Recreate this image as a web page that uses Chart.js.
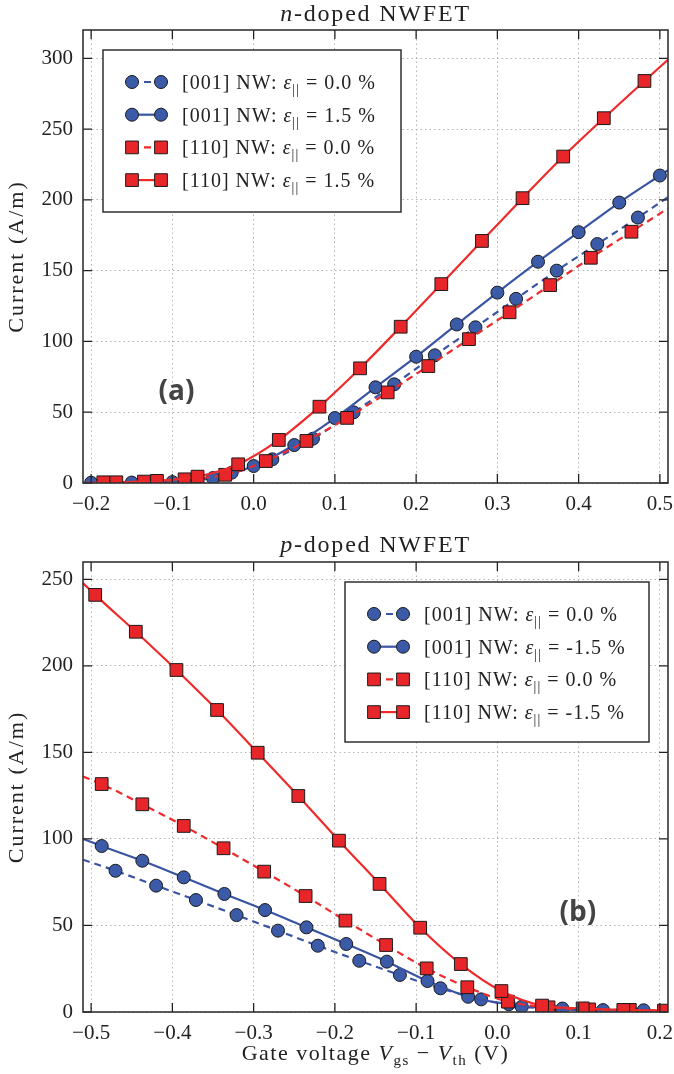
<!DOCTYPE html>
<html>
<head>
<meta charset="utf-8">
<script src="https://cdn.jsdelivr.net/npm/chart.js@4/dist/chart.umd.min.js"></script>
<style>
  html, body { margin: 0; padding: 0; background: #fff; }
  #wrap { position: relative; width: 674px; height: 1074px; }
  #nChart { position: absolute; left: 0; top: 0; }
  #pChart { position: absolute; left: 0; top: 525px; }
</style>
</head>
<body>
<div id="wrap">
  <canvas id="nChart" width="674" height="525"></canvas>
  <canvas id="pChart" width="674" height="549"></canvas>
</div>
<script>
// ---- n-doped NWFET: current (A/m) vs gate voltage (V) ----
const nX001a = [-0.027, 0.023, 0.073, 0.123, 0.173, 0.223, 0.273, 0.323, 0.373, 0.423, 0.473];
const nY001a = [7.3, 16.7, 31.3, 49.9, 69.7, 90.2, 110, 130.1, 150, 168.8, 187.5];
const nX001b = [-0.2, -0.15, -0.1, -0.05, 0, 0.05, 0.1, 0.15, 0.2, 0.25, 0.3, 0.35, 0.4, 0.45, 0.5];
const nY001b = [0.2, 0.3, 0.6, 3.5, 12, 26.8, 45.9, 67.6, 89.2, 112, 134.5, 156.3, 177.2, 198.1, 217.2];
const nX110a = [-0.185, -0.135, -0.085, -0.035, 0.015, 0.065, 0.115, 0.165, 0.215, 0.265, 0.315, 0.365, 0.415, 0.465];
const nY110a = [0.5, 1, 2.6, 5.8, 15.5, 29.7, 46, 64, 82.6, 101.6, 120.6, 139.8, 159.1, 177.5];
const nX110b = [-0.169, -0.119, -0.069, -0.019, 0.031, 0.081, 0.131, 0.181, 0.231, 0.281, 0.331, 0.381, 0.431, 0.481];
const nY110b = [0.5, 1.5, 4.5, 13.2, 30.4, 53.9, 81, 110.4, 140.5, 171, 201.2, 230.6, 257.7, 284];
// curve points without markers (ends of the drawn lines)
const nLineX001a = [-0.21, -0.1, 0.51], nLineY001a = [0, 0.5, 202];
const nLineX001b = [-0.21, 0.51], nLineY001b = [0, 221];
const nLineX110a = [-0.21, 0.51], nLineY110a = [0, 194];
const nLineX110b = [-0.21, 0.51], nLineY110b = [0, 299];
const nStrain = ['0.0', '1.5', '0.0', '1.5'];
const nTicksX = [-0.2, -0.1, 0, 0.1, 0.2, 0.3, 0.4, 0.5];
const nTicksY = [0, 50, 100, 150, 200, 250, 300];

// ---- p-doped NWFET ----
const pX001a = [-0.47, -0.42, -0.371, -0.321, -0.27, -0.221, -0.17, -0.12, -0.07, -0.02, 0.03, 0.08, 0.13, 0.18];
const pY001a = [81.6, 73, 64.7, 56, 47, 38.3, 29.6, 21.4, 13.7, 7.3, 3, 2, 1.1, 1];
const pX001b = [-0.487, -0.437, -0.386, -0.336, -0.286, -0.235, -0.186, -0.136, -0.086, -0.036, 0.014, 0.064, 0.114, 0.164];
const pY001b = [95.9, 87.4, 77.8, 68.2, 58.9, 48.9, 39.3, 29.1, 17.9, 8.8, 4.5, 2, 1, 0.5];
const pX110a = [-0.487, -0.437, -0.386, -0.337, -0.287, -0.236, -0.187, -0.137, -0.087, -0.037, 0.013, 0.063, 0.113, 0.163];
const pY110a = [131.7, 120, 107.5, 94.6, 81.1, 67, 52.8, 38.7, 25.2, 14.3, 6, 2.7, 1.5, 1.2];
const pX110b = [-0.495, -0.445, -0.395, -0.345, -0.295, -0.245, -0.195, -0.145, -0.095, -0.045, 0.005, 0.055, 0.105, 0.155, 0.205];
const pY110b = [241, 219.7, 197.6, 174.5, 149.8, 124.8, 99, 74, 48.7, 27.7, 12.1, 3.7, 2.1, 1.2, 0.8];
const pLineX001a = [-0.51, 0.21], pLineY001a = [88, 0.6];
const pLineX001b = [-0.51, 0.21], pLineY001b = [100, 0.3];
const pLineX110a = [-0.51, 0.21], pLineY110a = [136, 0.8];
const pLineX110b = [-0.51, 0.21], pLineY110b = [247.8, 0.8];
const pStrain = ['0.0', '-1.5', '0.0', '-1.5'];
const pTicksX = [-0.5, -0.4, -0.3, -0.2, -0.1, 0, 0.1, 0.2];
const pTicksY = [0, 50, 100, 150, 200, 250];

const SERIF = '"Liberation Serif", "Times New Roman", serif';
const BLUE = '#3a54a4', BLUE_FILL = '#3b5ba9';
const RED = '#ee2a2b', RED_FILL = '#e8262a';
const EDGE = '#1a1a1a';

Chart.defaults.font.family = SERIF;
Chart.defaults.color = '#222';

// style per series, in legend order: [001] unstrained, [001] strained, [110] unstrained, [110] strained
const STYLES = [
  { color: BLUE, fill: BLUE_FILL, dash: [7, 5], shape: 'circle', r: 6.5 },
  { color: BLUE, fill: BLUE_FILL, dash: [], shape: 'circle', r: 6.5 },
  { color: RED, fill: RED_FILL, dash: [7, 5], shape: 'rect', r: 9 },
  { color: RED, fill: RED_FILL, dash: [], shape: 'rect', r: 9 }
];

function makeSet(xs, ys, lx, ly, st, order) {
  const pts = xs.map((v, i) => ({ x: v, y: ys[i], mark: true }))
    .concat(lx.map((v, i) => ({ x: v, y: ly[i], mark: false })))
    .sort((a, b) => a.x - b.x);
  return {
    data: pts,
    order: order,
    borderColor: st.color,
    borderWidth: 2.2,
    borderDash: st.dash,
    cubicInterpolationMode: 'monotone',
    pointStyle: st.shape,
    pointRadius: c => (c.raw && c.raw.mark ? st.r : 0),
    pointHoverRadius: 0,
    pointBackgroundColor: st.fill,
    pointBorderColor: EDGE,
    pointBorderWidth: 1
  };
}

function fmtX(v) {
  return (v < -1e-9 ? '\u2212' : '') + Math.abs(v).toFixed(1);
}

// mixed-style text: parts are [text, style] with style '', 'i' (italic) or 'sub'
function richText(ctx, x, y, parts, size, align, spacing) {
  const fontOf = s => (s === 'i' ? 'italic ' : '') + (s === 'sub' ? Math.round(size * 0.7) : size) + 'px ' + SERIF;
  ctx.letterSpacing = (spacing || 0) + 'px';
  let w = 0;
  parts.forEach(([t, s]) => { ctx.font = fontOf(s); w += ctx.measureText(t).width; });
  let cx = align === 'center' ? x - w / 2 : x;
  ctx.textAlign = 'left';
  ctx.textBaseline = 'alphabetic';
  parts.forEach(([t, s]) => {
    ctx.font = fontOf(s);
    ctx.fillText(t, cx, y + (s === 'sub' ? size * 0.24 : 0));
    cx += ctx.measureText(t).width;
  });
  ctx.letterSpacing = '0px';
}

const figFrame = {
  id: 'figFrame',
  afterDatasetsDraw(chart, args, o) {
    const { ctx, chartArea: a, scales: { x, y } } = chart;
    ctx.save();
    ctx.setLineDash([]);
    // ticks point inward on all four sides
    ctx.strokeStyle = '#222';
    ctx.lineWidth = 1.3;
    ctx.beginPath();
    x.ticks.forEach(t => {
      const px = x.getPixelForValue(t.value);
      ctx.moveTo(px, a.bottom); ctx.lineTo(px, a.bottom - 9);
      ctx.moveTo(px, a.top); ctx.lineTo(px, a.top + 9);
    });
    y.ticks.forEach(t => {
      const py = y.getPixelForValue(t.value);
      ctx.moveTo(a.left, py); ctx.lineTo(a.left + 9, py);
      ctx.moveTo(a.right, py); ctx.lineTo(a.right - 9, py);
    });
    ctx.stroke();
    ctx.strokeStyle = '#333';
    ctx.lineWidth = 1.6;
    ctx.strokeRect(a.left, a.top, a.right - a.left, a.bottom - a.top);

    // panel tag
    ctx.fillStyle = '#444';
    ctx.font = 'bold 28px "Open Sans", "DejaVu Sans", sans-serif';
    ctx.textAlign = 'center';
    ctx.textBaseline = 'middle';
    ctx.fillText(o.tag, x.getPixelForValue(o.tagAt[0]), y.getPixelForValue(o.tagAt[1]));
    ctx.restore();
  },
  afterDraw(chart, args, o) {
    const { ctx, chartArea: a } = chart;
    const mid = (a.left + a.right) / 2;
    ctx.save();
    ctx.fillStyle = '#222';
    richText(ctx, mid, o.titleY, o.title, 24, 'center', 1.8);
    if (o.xLabel) richText(ctx, mid, o.xLabelY, o.xLabel, 22, 'center', 1.5);

    // y axis title, rotated
    ctx.save();
    ctx.translate(23, (a.top + a.bottom) / 2);
    ctx.rotate(-Math.PI / 2);
    richText(ctx, 0, 0, [['Current (A/m)', '']], 22, 'center', 2);
    ctx.restore();

    // legend with two markers per entry
    const b = o.legendBox;
    ctx.fillStyle = '#fff';
    ctx.fillRect(b[0], b[1], b[2] - b[0], b[3] - b[1]);
    ctx.strokeStyle = '#222';
    ctx.lineWidth = 1.4;
    ctx.strokeRect(b[0], b[1], b[2] - b[0], b[3] - b[1]);
    const names = ['[001]', '[001]', '[110]', '[110]'];
    STYLES.forEach((st, i) => {
      const ry = b[1] + 32 + i * 32.7;
      const x1 = b[0] + 29, x2 = b[0] + 58;
      ctx.strokeStyle = st.color;
      ctx.lineWidth = 2.2;
      ctx.setLineDash(st.dash);
      ctx.beginPath(); ctx.moveTo(x1, ry); ctx.lineTo(x2, ry); ctx.stroke();
      ctx.setLineDash([]);
      ctx.fillStyle = st.fill;
      ctx.strokeStyle = EDGE;
      ctx.lineWidth = 1;
      [x1, x2].forEach(px => Chart.helpers.drawPoint(ctx, { pointStyle: st.shape, radius: st.r, rotation: 0, borderWidth: 1 }, px, ry));
      ctx.fillStyle = '#222';
      richText(ctx, b[0] + 79, ry + 7, [[names[i] + ' NW: ', ''], ['\u03b5', 'i'], ['||', 'sub'], [' = ' + o.strain[i] + ' %', '']], 20, 'left', 1);
    });
    ctx.restore();
  }
};

function makeChart(id, sets, cfg) {
  return new Chart(document.getElementById(id), {
    type: 'line',
    data: { datasets: sets },
    plugins: [figFrame],
    options: {
      responsive: false,
      animation: false,
      events: [],
      layout: { padding: { top: cfg.top, right: 6, left: 0, bottom: 0 } },
      plugins: {
        legend: { display: false },
        tooltip: { enabled: false },
        figFrame: cfg.frame
      },
      scales: {
        x: {
          type: 'linear', min: cfg.xMin, max: cfg.xMax,
          afterBuildTicks: s => { s.ticks = cfg.ticksX.map(v => ({ value: v })); },
          afterFit: s => { s.height = cfg.xHeight; s.paddingLeft = 0; s.paddingRight = 0; },
          grid: { color: '#b4b4b4', lineWidth: 1, drawTicks: false },
          border: { display: false, dash: [1.5, 3] },
          ticks: { padding: 9, autoSkip: false, maxRotation: 0, font: { size: 21 }, callback: v => fmtX(v) }
        },
        y: {
          type: 'linear', min: 0, max: cfg.yMax,
          afterBuildTicks: s => { s.ticks = cfg.ticksY.map(v => ({ value: v })); },
          afterFit: s => { s.width = 83; s.paddingTop = 0; s.paddingBottom = 0; },
          grid: { color: '#b4b4b4', lineWidth: 1, drawTicks: false },
          border: { display: false, dash: [1.5, 3] },
          ticks: { padding: 10, autoSkip: false, font: { size: 21 }, callback: v => String(v) }
        }
      }
    }
  });
}

makeChart('nChart', [
  makeSet(nX001a, nY001a, nLineX001a, nLineY001a, STYLES[0], 3),
  makeSet(nX001b, nY001b, nLineX001b, nLineY001b, STYLES[1], 2),
  makeSet(nX110a, nY110a, nLineX110a, nLineY110a, STYLES[2], 1),
  makeSet(nX110b, nY110b, nLineX110b, nLineY110b, STYLES[3], 0)
], {
  top: 30, xHeight: 42, xMin: -0.21, xMax: 0.51, yMax: 320, ticksX: nTicksX, ticksY: nTicksY,
  frame: {
    title: [['n', 'i'], ['-doped NWFET', '']], titleY: 21,
    legendBox: [103, 50, 401, 212], strain: nStrain,
    tag: '(a)', tagAt: [-0.095, 64]
  }
});

makeChart('pChart', [
  makeSet(pX001a, pY001a, pLineX001a, pLineY001a, STYLES[0], 3),
  makeSet(pX001b, pY001b, pLineX001b, pLineY001b, STYLES[1], 2),
  makeSet(pX110a, pY110a, pLineX110a, pLineY110a, STYLES[2], 1),
  makeSet(pX110b, pY110b, pLineX110b, pLineY110b, STYLES[3], 0)
], {
  top: 37, xHeight: 62, xMin: -0.51, xMax: 0.21, yMax: 260, ticksX: pTicksX, ticksY: pTicksY,
  frame: {
    title: [['p', 'i'], ['-doped NWFET', '']], titleY: 27,
    xLabel: [['Gate voltage ', ''], ['V', 'i'], ['gs', 'sub'], [' \u2212 ', ''], ['V', 'i'], ['th', 'sub'], [' (V)', '']],
    xLabelY: 535,
    legendBox: [345, 57, 649, 217], strain: pStrain,
    tag: '(b)', tagAt: [0.099, 57]
  }
});
</script>
</body>
</html>
